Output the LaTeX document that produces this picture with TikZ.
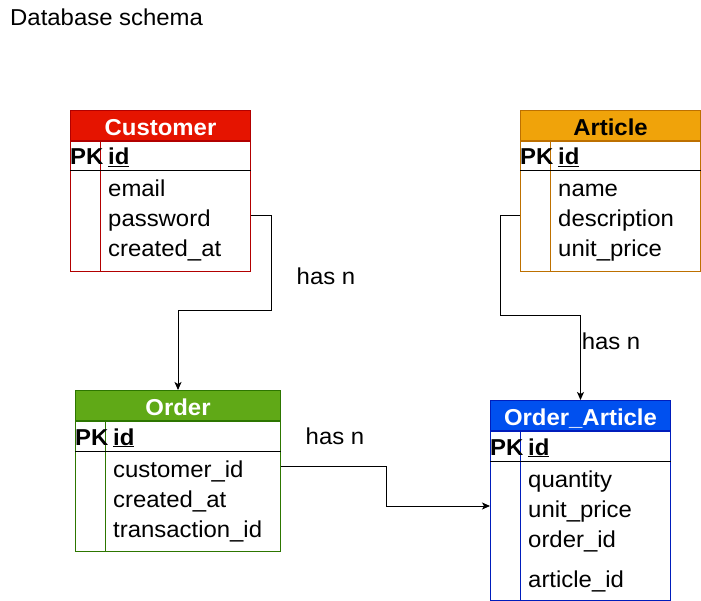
\documentclass[tikz,border=0pt]{standalone}
\usepackage{fontspec}
\setmainfont{Liberation Sans}[FakeStretch=1.04]
\usetikzlibrary{arrows.meta,calc}

\definecolor{custfill}{HTML}{E51400}
\definecolor{custline}{HTML}{B20000}
\definecolor{artfill}{HTML}{F0A30A}
\definecolor{artline}{HTML}{BD7000}
\definecolor{ordfill}{HTML}{60A917}
\definecolor{ordline}{HTML}{2D7600}
\definecolor{oafill}{HTML}{0050EF}
\definecolor{oaline}{HTML}{001DBC}

\newcommand{\tablefont}{\fontsize{23}{27}\selectfont}

\tikzset{
	head/.style={anchor=north west, minimum height=30, inner sep=0pt, line width=1pt, text height=20pt, text depth=0pt, font=\tablefont\bfseries},
	bodybox/.style={draw, anchor=north west, inner sep=0pt, line width=1pt},
	field/.style={anchor=base west, inner sep=0pt, text height=22pt, text depth=0pt, font=\tablefont},
	key/.style={field, font=\tablefont\bfseries},
	link/.style={line width=1pt, -{Stealth[length=8pt, width=7pt, inset=2pt]}},
	relation/.style={font=\tablefont}
}

\begin{document}
\begin{tikzpicture}[x=1pt, y=-1pt]
	\useasboundingbox[fill=white] (0,0) rectangle (701,601);

	\node[field, anchor=base west] (title) at (10,26) {Database schema};

	% Customer
	\node[head, fill=custfill, draw=custline, text=white, minimum width=180] (cust) at (70,110) {Customer};
	\node[bodybox, draw=custline, minimum width=180, minimum height=130] (custbody) at (cust.south west) {};
	\draw[custline, line width=1pt] ($(custbody.north west)+(30,0)$) -- ($(custbody.south west)+(30,0)$);
	\draw[line width=1pt] ($(custbody.north west)+(0,30)$) -- ($(custbody.north east)+(0,30)$);
	\node[key] (custpk) at ($(cust.south west)+(0,24)$) {PK};
	\node[key] (custid) at ($(cust.south west)+(38,24)$) {\underline{id}};
	\node[field] (custmail) at ($(cust.south west)+(38,56)$) {email};
	\node[field] (custpw) at ($(cust.south west)+(38,86)$) {password};
	\node[field] (custdate) at ($(cust.south west)+(38,116)$) {created\_at};

	% Article
	\node[head, fill=artfill, draw=artline, text=black, minimum width=180] (art) at (520,110) {Article};
	\node[bodybox, draw=artline, minimum width=180, minimum height=130] (artbody) at (art.south west) {};
	\draw[artline, line width=1pt] ($(artbody.north west)+(30,0)$) -- ($(artbody.south west)+(30,0)$);
	\draw[line width=1pt] ($(artbody.north west)+(0,30)$) -- ($(artbody.north east)+(0,30)$);
	\node[key] (artpk) at ($(art.south west)+(0,24)$) {PK};
	\node[key] (artid) at ($(art.south west)+(38,24)$) {\underline{id}};
	\node[field] (artname) at ($(art.south west)+(38,56)$) {name};
	\node[field] (artdesc) at ($(art.south west)+(38,86)$) {description};
	\node[field] (artprice) at ($(art.south west)+(38,116)$) {unit\_price};

	% Order
	\node[head, fill=ordfill, draw=ordline, text=white, minimum width=205] (ord) at (75,390) {Order};
	\node[bodybox, draw=ordline, minimum width=205, minimum height=130] (ordbody) at (ord.south west) {};
	\draw[ordline, line width=1pt] ($(ordbody.north west)+(30,0)$) -- ($(ordbody.south west)+(30,0)$);
	\draw[line width=1pt] ($(ordbody.north west)+(0,30)$) -- ($(ordbody.north east)+(0,30)$);
	\node[key] (ordpk) at ($(ord.south west)+(0,24)$) {PK};
	\node[key] (ordid) at ($(ord.south west)+(38,24)$) {\underline{id}};
	\node[field] (ordcust) at ($(ord.south west)+(38,56)$) {customer\_id};
	\node[field] (orddate) at ($(ord.south west)+(38,86)$) {created\_at};
	\node[field] (ordtrans) at ($(ord.south west)+(38,116)$) {transaction\_id};

	% Order_Article
	\node[head, fill=oafill, draw=oaline, text=white, minimum width=180] (oa) at (490,400) {Order\_Article};
	\node[bodybox, draw=oaline, minimum width=180, minimum height=169] (oabody) at (oa.south west) {};
	\draw[oaline, line width=1pt] ($(oabody.north west)+(30,0)$) -- ($(oabody.south west)+(30,0)$);
	\draw[line width=1pt] ($(oabody.north west)+(0,30)$) -- ($(oabody.north east)+(0,30)$);
	\node[key] (oapk) at ($(oa.south west)+(0,24)$) {PK};
	\node[key] (oaid) at ($(oa.south west)+(38,24)$) {\underline{id}};
	\node[field] (oaqty) at ($(oa.south west)+(38,56)$) {quantity};
	\node[field] (oaprice) at ($(oa.south west)+(38,86)$) {unit\_price};
	\node[field] (oaord) at ($(oa.south west)+(38,116)$) {order\_id};
	\node[field] (oaart) at ($(oa.south west)+(38,156)$) {article\_id};

	% Relations
	\draw[link] (custbody.east |- custpw) -- ++(20,0) -- ++(0,95) -| (ord.north);
	\node[relation] (rel1) at (326,276) {has n};

	\draw[link] (artbody.west |- artdesc) -- ++(-20,0) -- ++(0,100) -| (oa.north);
	\node[relation] (rel2) at (611,341) {has n};

	\draw[link] (ordbody.east |- ordcust) -- ++(105,0) |- (oabody.west |- oaprice);
	\node[relation] (rel3) at (335,436) {has n};
\end{tikzpicture}
\end{document}
